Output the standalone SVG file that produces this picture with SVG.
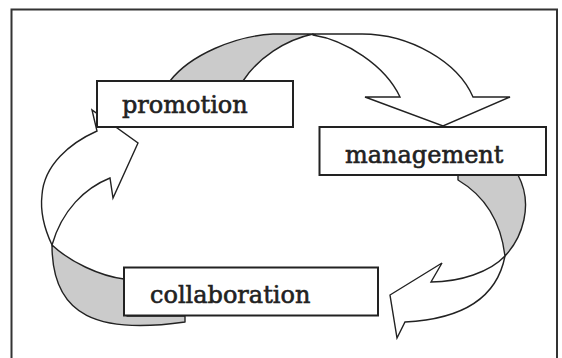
<svg xmlns="http://www.w3.org/2000/svg" width="562" height="358" viewBox="0 0 562 358">
<style>
.frame{fill:none;stroke:#333;stroke-width:2}
.shade{fill:#cbcbcb;stroke:#222;stroke-width:1.4;stroke-linejoin:round}
.ribbon{fill:#fff;stroke:#222;stroke-width:1.4;stroke-linejoin:miter}
.box{fill:#fff;stroke:#222;stroke-width:2}
.lbl{font-family:"DejaVu Serif","Liberation Serif",serif;font-size:24px;fill:#222;stroke:#222;stroke-width:0.6}
</style>
<rect width="562" height="358" fill="#fff"/>
<rect class="frame" x="11.5" y="9.5" width="545.5" height="360"/>
<g id="connectors">
  <!-- promotion to management -->
  <path class="shade" d="M170,84 L170,81 C190,55 235,36 273,34 L313,34 C285,40 258,58 243,81 L243,84 Z"/>
  <path class="ribbon" d="M313,34 L362,34 C410,34 458,62 473,97 L510,97 L443,126 L365,97 L400,97 C385,65 345,40 313,35 Z"/>
  <!-- management to collaboration -->
  <path class="shade" d="M458,172 L458,180 C480,193 500,215 505,256 C522,238 534,205 518,175 L518,172 Z"/>
  <path class="ribbon" d="M505,256 C490,272 460,282 431,282 L442,263 L390,295 L397,338 L405,322 C445,320 495,308 505,256 Z"/>
  <!-- collaboration to promotion -->
  <path class="shade" d="M52,245 C70,262 100,276 124,279 L127,279 L127,316 L185,316 L185,322 C100,334 52,318 52,245 Z"/>
  <path class="ribbon" d="M52,245 C44,228 40,212 42,195 C44,165 70,143 97,131 L92,110 L138,143 L113,198 L110,178 C85,188 62,210 52,245 Z"/>
</g>
<g id="promotion">
  <rect class="box" x="97" y="81" width="196" height="46"/>
  <text class="lbl" x="122" y="113">promotion</text>
</g>
<g id="management">
  <rect class="box" x="319.5" y="127" width="226.5" height="48"/>
  <text class="lbl" x="345" y="163">management</text>
</g>
<g id="collaboration">
  <rect class="box" x="124" y="267.5" width="254" height="48"/>
  <text class="lbl" x="150" y="303">collaboration</text>
</g>
</svg>
